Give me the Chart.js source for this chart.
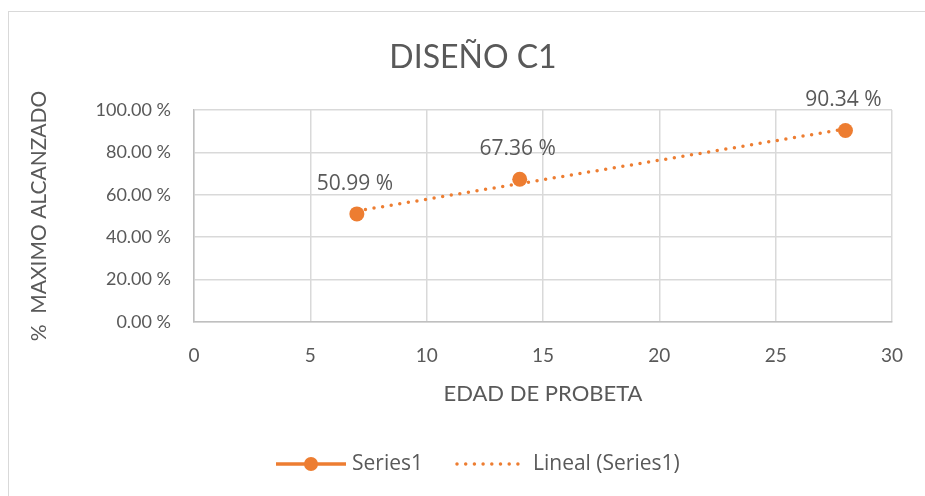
<!DOCTYPE html>
<html>
<head>
<meta charset="utf-8">
<script src="https://cdn.jsdelivr.net/npm/chart.js@4.4.0/dist/chart.umd.min.js"></script>
<style>
  body { margin: 0; background: #fff; }
  canvas { display: block; }
</style>
</head>
<body>
<canvas id="chart" width="925" height="496"></canvas>
<script>
const chartTitle = "DISEÑO C1";
const xTitle = "EDAD DE PROBETA";
const yTitle = "%  MAXIMO ALCANZADO";

// edad (dias) vs % maximo alcanzado
const ages = [7, 14, 28];
const maxReached = [50.99, 67.36, 90.34];

// ends of the Excel linear trendline
const trendAges = [7, 28];
const trendValues = [52.38, 91.04];

const orange = "#ED7D31";
const textGray = "#595959";

const pctLabel = (v) => v.toFixed(2) + " %";

// chart frame, title, point labels, and legend
const excelBits = {
  id: "excelBits",
  beforeDraw(chart) {
    const ctx = chart.ctx;
    ctx.save();
    ctx.fillStyle = "#fff";
    ctx.fillRect(0, 0, chart.width, chart.height);
    ctx.strokeStyle = "#d9d9d9";
    ctx.lineWidth = 1;
    ctx.strokeRect(8.5, 11.5, 1200, 1200);
    ctx.restore();
  },
  afterDatasetsDraw(chart) {
    const ctx = chart.ctx;
    const meta = chart.getDatasetMeta(0);
    ctx.save();
    ctx.fillStyle = textGray;
    ctx.font = "21px 'Open Sans'";
    ctx.textAlign = "center";
    ctx.textBaseline = "middle";
    meta.data.forEach((pt, i) => {
      ctx.fillText(pctLabel(maxReached[i]), pt.x - 2, pt.y - 30);
    });
    ctx.restore();
  },
  afterDraw(chart) {
    const ctx = chart.ctx;
    ctx.save();
    ctx.fillStyle = textGray;
    ctx.font = "32px Lato";
    ctx.textAlign = "center";
    ctx.textBaseline = "middle";
    ctx.fillText(chartTitle, 473, 58);

    // legend
    const ly = 464;
    const ds = chart.data.datasets;
    ctx.strokeStyle = ds[0].borderColor;
    ctx.lineWidth = 3.5;
    ctx.beginPath();
    ctx.moveTo(276, ly);
    ctx.lineTo(346, ly);
    ctx.stroke();
    ctx.fillStyle = ds[0].backgroundColor;
    ctx.beginPath();
    ctx.arc(311, ly, 7, 0, Math.PI * 2);
    ctx.fill();

    ctx.strokeStyle = ds[1].borderColor;
    ctx.lineWidth = 3.5;
    ctx.lineCap = "round";
    ctx.setLineDash([0, 8.7]);
    ctx.beginPath();
    ctx.moveTo(457, ly);
    ctx.lineTo(518, ly);
    ctx.stroke();
    ctx.setLineDash([]);

    ctx.fillStyle = textGray;
    ctx.font = "21px 'Open Sans'";
    ctx.textAlign = "left";
    ctx.fillText(ds[0].label, 352, ly);
    ctx.fillText(ds[1].label, 533, ly);
    ctx.restore();
  }
};

const ctx = document.getElementById("chart").getContext("2d");

new Chart(ctx, {
  type: "scatter",
  data: {
    datasets: [
      {
        label: "Series1",
        data: ages.map((x, i) => ({ x: x, y: maxReached[i] })),
        showLine: false,
        backgroundColor: orange,
        borderColor: orange,
        pointRadius: 7.5,
        pointHoverRadius: 7.5,
        pointBorderWidth: 0
      },
      {
        label: "Lineal (Series1)",
        data: trendAges.map((x, i) => ({ x: x, y: trendValues[i] })),
        showLine: true,
        borderColor: orange,
        backgroundColor: orange,
        borderWidth: 3.5,
        borderDash: [0, 8.7],
        borderCapStyle: "round",
        pointRadius: 0,
        pointHoverRadius: 0
      }
    ]
  },
  options: {
    responsive: false,
    animation: false,
    layout: { padding: { top: 110, right: 29, left: 0, bottom: 0 } },
    plugins: {
      legend: { display: false },
      title: { display: false },
      tooltip: { enabled: false }
    },
    scales: {
      x: {
        type: "linear",
        min: 0,
        max: 30,
        afterFit: (scale) => { scale.height = 174; },
        ticks: {
          stepSize: 5,
          padding: 22,
          color: textGray,
          font: { family: "Lato", size: 19 },
          maxRotation: 0
        },
        grid: { color: "#d9d9d9", lineWidth: 1.5, drawTicks: false },
        border: { color: "#bfbfbf", width: 1.5 },
        title: {
          display: true,
          text: xTitle,
          color: textGray,
          font: { family: "Lato", size: 22 },
          padding: { top: 0, bottom: 89 }
        }
      },
      y: {
        min: 0,
        max: 100,
        afterFit: (scale) => { scale.width = 194; },
        ticks: {
          stepSize: 20,
          padding: 23,
          color: textGray,
          font: { family: "Lato", size: 18 },
          callback: (v) => pctLabel(v)
        },
        grid: { color: "#d9d9d9", lineWidth: 1.5, drawTicks: false },
        border: { color: "#bfbfbf", width: 1.5 },
        title: {
          display: true,
          text: yTitle,
          color: textGray,
          font: { family: "Lato", size: 21 },
          padding: { top: 27, bottom: 0 }
        }
      }
    }
  },
  plugins: [excelBits]
});
</script>
</body>
</html>
